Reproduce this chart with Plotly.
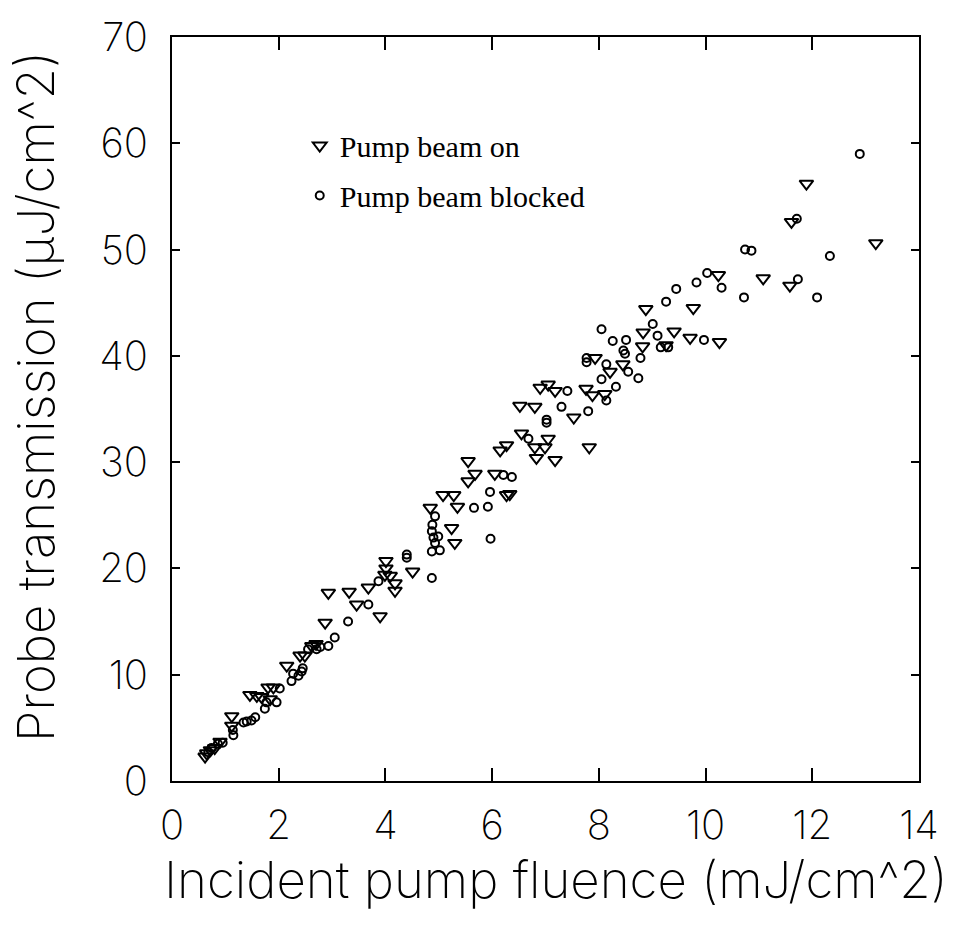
import plotly.graph_objects as go

# Pump beam on (triangles)
on_x = [0.62, 0.65, 0.72, 0.80, 0.90, 1.12, 1.12, 1.46, 1.59, 1.68, 1.80, 1.90, 1.84,
        2.15, 2.40, 2.49, 2.62, 2.70, 2.87, 2.93, 3.32, 3.46, 3.68, 3.90, 3.99, 4.01,
        4.01, 4.09, 4.18, 4.18, 4.51, 4.84, 5.24, 5.30, 5.08, 5.28, 5.35, 5.55, 5.68,
        5.55, 6.05, 6.27, 6.33, 6.15, 6.27, 6.55, 6.80, 6.83, 6.99, 7.05, 7.18, 7.82,
        6.52, 6.80, 7.53, 6.90, 7.05, 7.18, 7.76, 7.88, 8.11, 7.93, 8.21, 8.45, 8.82,
        8.83, 9.26, 9.41, 9.71, 8.88, 9.77, 10.24, 11.08, 11.58, 11.61, 11.89, 13.19,
        10.26]
on_y = [2.3, 2.6, 2.9, 3.1, 3.7, 6.1, 5.2, 8.1, 8.0, 7.9, 8.8, 8.8, 7.7,
        10.85, 11.8, 11.8, 12.7, 12.9, 14.9, 17.7, 17.8, 16.6, 18.2, 15.5, 19.4, 20.0,
        20.7, 19.3, 18.6, 17.9, 19.7, 25.7, 23.8, 22.4, 26.9, 26.9, 25.8, 28.2, 28.9,
        30.1, 28.9, 26.9, 27.0, 31.1, 31.6, 32.7, 31.4, 30.4, 31.4, 32.2, 30.2, 31.4,
        35.3, 35.2, 34.2, 37.0, 37.3, 36.7, 36.9, 36.3, 36.4, 39.8, 38.5, 39.2, 40.9,
        42.2, 41.0, 42.3, 41.7, 44.4, 44.5, 47.6, 47.3, 46.6, 52.6, 56.2, 50.6,
        41.3]

# Pump beam blocked (circles)
off_x = [0.68, 0.74, 0.86, 0.95, 1.14, 1.15, 1.34, 1.40, 1.49, 1.56, 1.74, 1.77, 1.96,
         2.02, 2.24, 2.27, 2.37, 2.43, 2.45, 2.55, 2.71, 2.78, 2.93, 3.05, 3.30, 3.68,
         3.87, 4.40, 4.40, 4.87, 4.93, 4.88, 4.87, 4.90, 4.93, 4.87, 5.02, 4.99, 5.66,
         5.92, 5.97, 6.21, 6.37, 5.96, 6.68, 7.02, 7.02, 7.30, 7.80, 7.41, 8.14, 8.32,
         8.05, 7.77, 7.77, 8.14, 8.55, 8.74, 8.78, 8.46, 8.49, 8.26, 8.51, 8.05, 9.01,
         9.10, 9.16, 9.30, 9.97, 9.26, 9.45, 9.83, 10.03, 10.30, 10.74, 10.86, 10.72,
         11.73, 12.09, 12.33, 11.71, 12.89]
off_y = [2.7, 3.1, 3.5, 3.6, 4.8, 4.3, 5.5, 5.6, 5.7, 6.0, 6.8, 7.4, 7.4,
         8.7, 9.4, 10.1, 9.9, 10.3, 10.6, 12.4, 12.4, 12.6, 12.7, 13.5, 15.0, 16.6,
         18.8, 21.0, 21.3, 19.1, 24.9, 24.1, 23.5, 22.9, 22.4, 21.6, 21.7, 23.0, 25.7,
         25.8, 22.8, 28.8, 28.6, 27.2, 32.2, 34.0, 33.7, 35.2, 34.8, 36.7, 35.8, 37.1,
         37.8, 39.8, 39.4, 39.2, 38.5, 37.9, 39.8, 40.5, 40.2, 41.4, 41.5, 42.5, 43.0,
         41.9, 40.8, 40.8, 41.5, 45.1, 46.3, 46.9, 47.8, 46.4, 50.0, 49.9, 45.5,
         47.2, 45.5, 49.4, 52.9, 59.0]

x_ticks = [0, 2, 4, 6, 8, 10, 12, 14]
y_ticks = [0, 10, 20, 30, 40, 50, 60, 70]
x_title = "Incident pump fluence (mJ/cm^2)"
y_title = "Probe transmission (\u03bcJ/cm^2)"

fig = go.Figure()
fig.add_trace(go.Scatter(
    x=on_x, y=on_y, mode="markers", name="Pump beam on", legendgroup="a",
    marker=dict(symbol="triangle-down-open", size=12, color="black",
                line=dict(width=2, color="black"))))
fig.add_trace(go.Scatter(
    x=off_x, y=off_y, mode="markers", name="Pump beam blocked", legendgroup="b",
    marker=dict(symbol="circle-open", size=8, color="black",
                line=dict(width=2, color="black"))))

sans = "Inter, Liberation Sans, sans-serif"
title_font = dict(family=sans, size=51, color="black", weight=200)
axis_common = dict(showgrid=False, zeroline=False, showline=True, linecolor="black",
                   linewidth=2, mirror="ticks", ticks="inside", tickcolor="black",
                   tickwidth=1.5,
                   tickfont=dict(family=sans, size=40, color="black", weight=200))

fig.update_xaxes(range=[0, 14], tickvals=x_ticks, ticktext=[str(v) for v in x_ticks],
                 ticklen=13, ticklabelstandoff=8, **axis_common)
fig.update_yaxes(range=[0, 70], tickvals=y_ticks, ticktext=[str(v) for v in y_ticks],
                 ticklen=8, ticklabelstandoff=14, **axis_common)

fig.add_annotation(text=x_title, xref="paper", yref="paper", x=0.5134, y=-0.089,
                   xanchor="center", yanchor="top", showarrow=False, font=title_font)
fig.add_annotation(text=y_title, xref="paper", yref="paper", x=-0.1834, y=0.516,
                   xanchor="center", yanchor="middle", showarrow=False, textangle=-90,
                   font=title_font)

fig.update_layout(
    width=957, height=934,
    margin=dict(l=172, r=38, t=33, b=153),
    paper_bgcolor="white", plot_bgcolor="white",
    showlegend=True,
    legend=dict(x=0.171, y=0.889, xanchor="left", yanchor="top",
                bgcolor="rgba(0,0,0,0)", borderwidth=0, tracegroupgap=8,
                font=dict(family="Liberation Serif, Times New Roman, serif", size=30,
                          color="black")),
)

fig.write_html("out.html")
